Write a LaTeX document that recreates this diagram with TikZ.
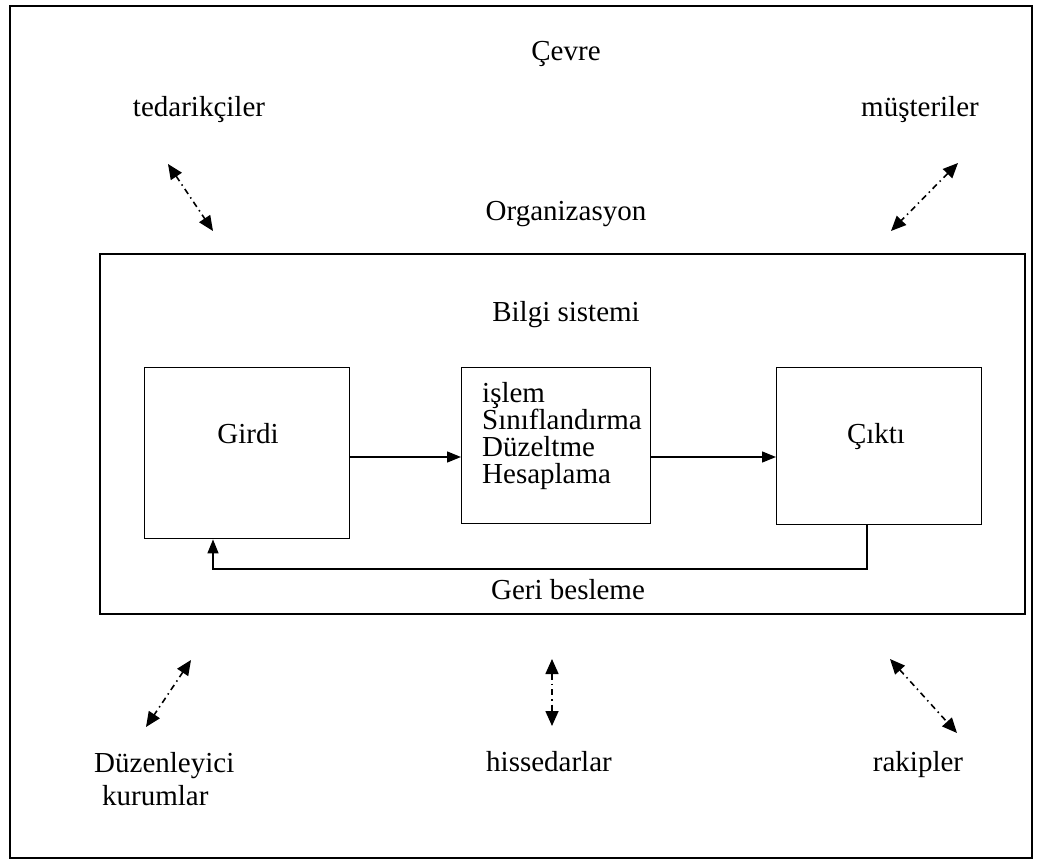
\documentclass[tikz,border=0pt]{standalone}
\usepackage{fontspec}
\setmainfont{Liberation Serif}
\usetikzlibrary{arrows.meta}
\begin{document}
\begin{tikzpicture}[x=1pt,y=-1pt,
  lbl/.style={inner sep=0pt,anchor=base,font=\fontsize{29}{26.7}\selectfont},
  frame/.style={draw,line width=1.4pt},
  block/.style={draw,line width=1.4pt,anchor=north west},
  flow/.style={line width=1.4pt,-{Triangle[length=14pt,width=11pt]}},
  link/.style={line width=1.6pt,dash pattern=on 6pt off 4pt on 1.5pt off 4pt,
    {Triangle[length=15pt,width=13pt]}-{Triangle[length=15pt,width=13pt]}}]
\useasboundingbox (0,0) rectangle (1042,861);
% environment frame and organisation frame
\draw[frame] (10,6) rectangle (1032,858);
\draw[frame] (100,254) rectangle (1025,614);
% headings
\node[lbl] (env) at (566,61) {Çevre};
\node[lbl] (org) at (566,221) {Organizasyon};
\node[lbl] (is) at (566,321) {Bilgi sistemi};
% stakeholders
\node[lbl] (sup) at (199,117) {tedarikçiler};
\node[lbl] (cus) at (920,117) {müşteriler};
\node[lbl,anchor=base west] (reg1) at (94,772) {Düzenleyici};
\node[lbl,anchor=base west] (reg2) at (102,805) {kurumlar};
\node[lbl] (sh) at (549,771) {hissedarlar};
\node[lbl] (comp) at (918,771) {rakipler};
% information system blocks
\node[block,minimum width=205pt,minimum height=171pt] (in) at (144,367) {};
\node[lbl] (intext) at (248,443) {Girdi};
\node[block,minimum width=189pt,minimum height=156pt] (proc) at (461,367) {};
% the base of a multi-line node is the baseline of its last line
\node[lbl,anchor=base west,align=left] (ptext) at (482,483)
  {işlem\\Sınıflandırma\\Düzeltme\\Hesaplama};
\node[block,minimum width=205pt,minimum height=157pt] (out) at (776,367) {};
\node[lbl] (outtext) at (876,443) {Çıktı};
\node[lbl] (fb) at (568,599) {Geri besleme};
% flow arrows
\draw[flow] (in.east |- 0,457) -- (proc.west |- 0,457);
\draw[flow] (proc.east |- 0,457) -- (out.west |- 0,457);
\draw[flow] (out.south -| 867,0) -- (867,569) -- (213,569) -- (in.south -| 213,0);
% dash-dot links between environment and organisation
\coordinate (a1) at (168,164); \coordinate (a2) at (213,231);
\coordinate (b1) at (958,163); \coordinate (b2) at (891,231);
\coordinate (c1) at (191,660); \coordinate (c2) at (146,727);
\coordinate (d1) at (552,659); \coordinate (d2) at (552,726);
\coordinate (e1) at (890,659); \coordinate (e2) at (957,733);
\draw[link] (a1) -- (a2);
\draw[link] (b1) -- (b2);
\draw[link] (c1) -- (c2);
\draw[link] (d1) -- (d2);
\draw[link] (e1) -- (e2);
\end{tikzpicture}
\end{document}
